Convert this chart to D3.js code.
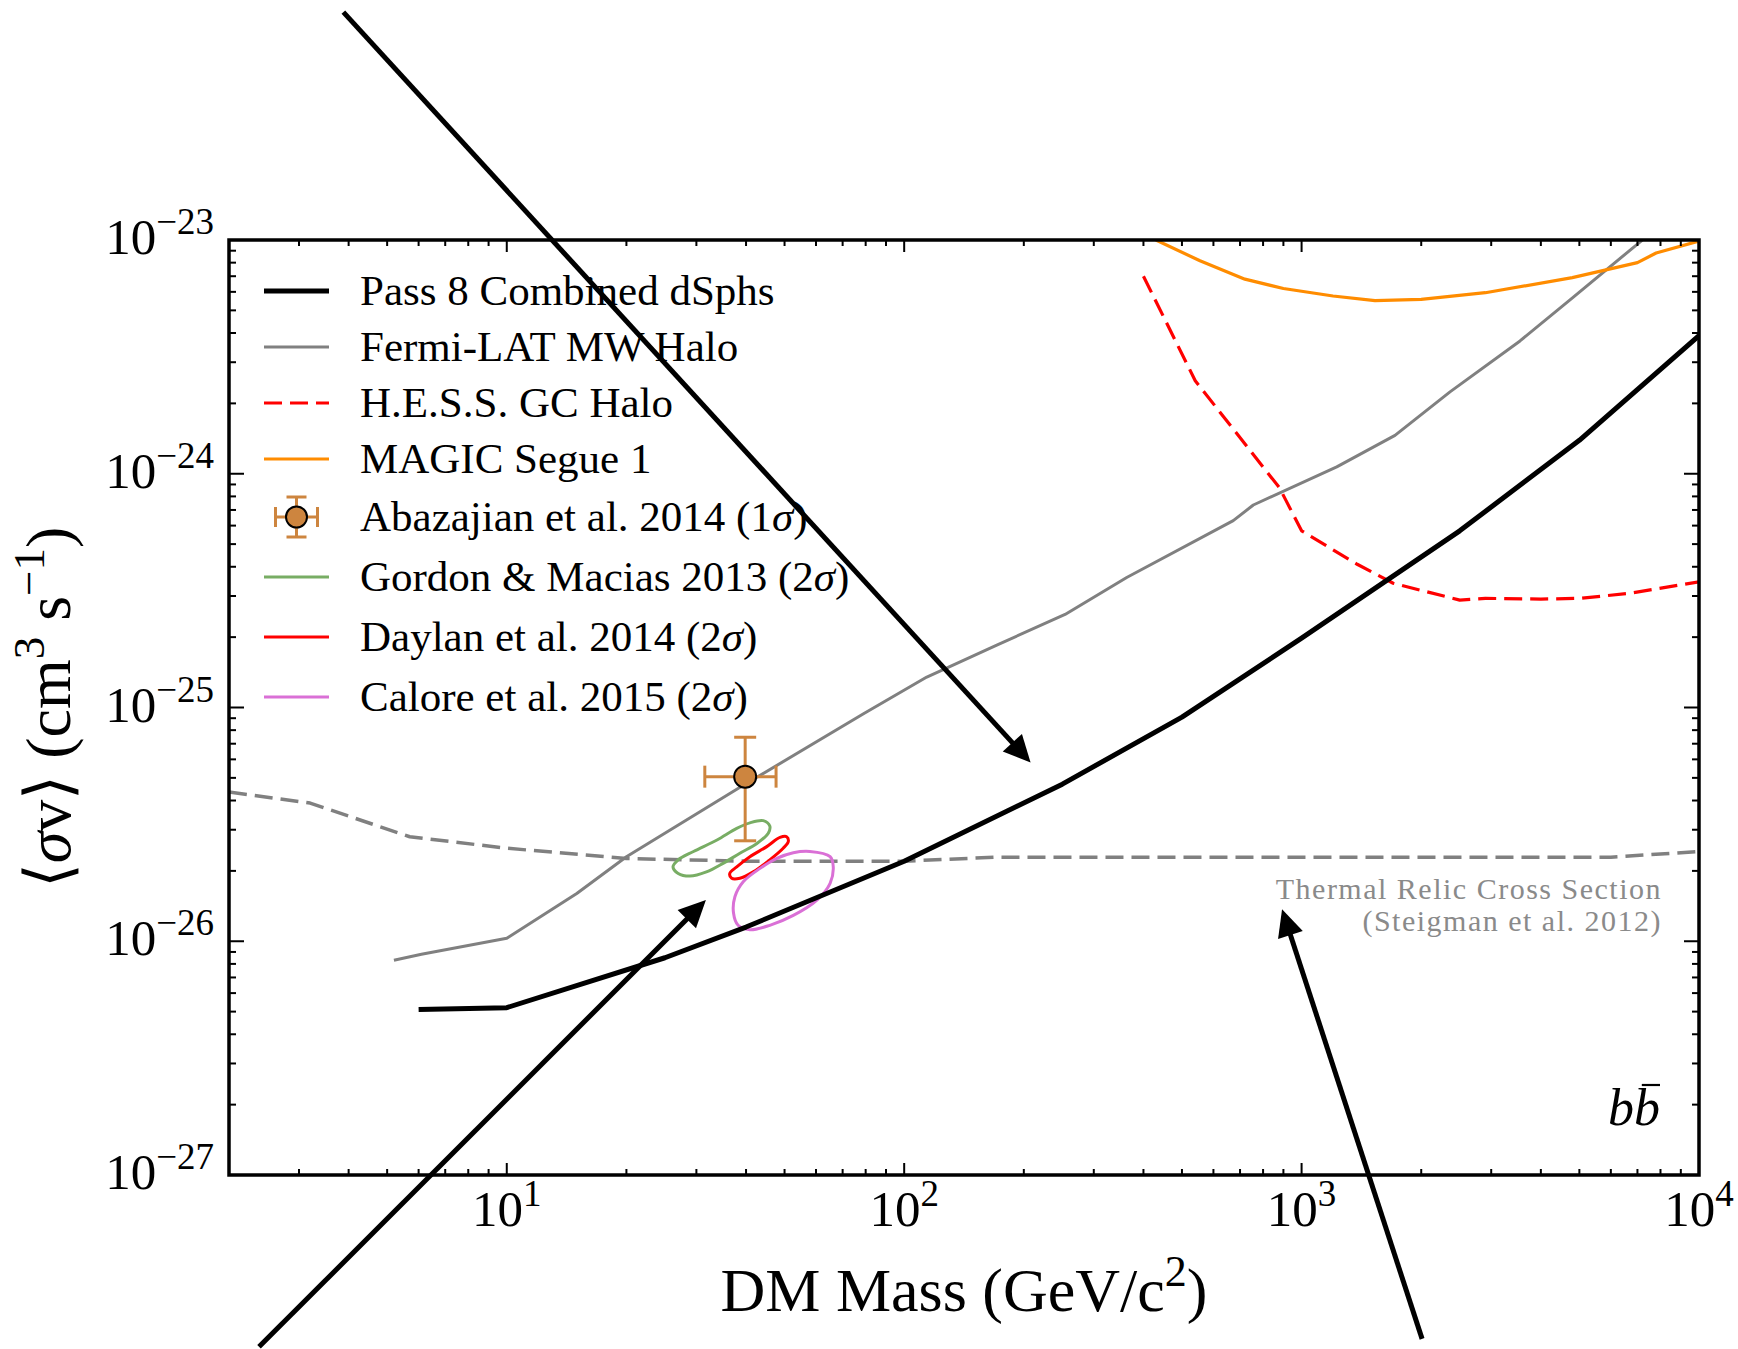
<!DOCTYPE html>
<html><head><meta charset="utf-8">
<script src="https://cdn.jsdelivr.net/npm/d3@7"></script>
<style>body{margin:0;background:#fff} svg{display:block}</style>
</head><body><svg id="c" width="1738" height="1349"></svg>
<script>
// ---------------- DATA ----------------
const pass8Mass = [6,10,25,40,100,250,500,1000,2500,5000,10000];
const pass8Sv   = [5.1e-27,5.2e-27,8.5e-27,1.15e-26,2.2e-26,4.7e-26,9.1e-26,1.98e-25,5.7e-25,1.39e-24,3.9e-24];

const fermiMass = [5.2,6.1,10,15,20,39,79,114,171,254,363,673,756,1226,1718,2363,3545,4829,7100,8000];
const fermiSv   = [8.3e-27,8.8e-27,1.03e-26,1.6e-26,2.3e-26,4.6e-26,9.4e-26,1.35e-25,1.85e-25,2.5e-25,3.6e-25,6.3e-25,7.35e-25,1.07e-24,1.46e-24,2.24e-24,3.7e-24,5.7e-24,9.8e-24,1.16e-23];

const hessMass = [400,540,880,1000,1380,1700,2500,2900,4000,5000,6700,10000];
const hessSv   = [7.0e-24,2.5e-24,8.7e-25,5.7e-25,4.1e-25,3.4e-25,2.88e-25,2.93e-25,2.91e-25,2.93e-25,3.08e-25,3.45e-25];

const magicMass = [430,555,720,900,1200,1530,2000,2900,4800,7000,7800,10000];
const magicSv   = [1.0e-23,8.15e-24,6.8e-24,6.2e-24,5.76e-24,5.5e-24,5.57e-24,5.95e-24,6.9e-24,8.0e-24,8.8e-24,9.9e-24];

const relicMass = [2,3.2,5.7,10,20,40,100,170,1000,6000,10000];
const relicSv   = [4.35e-26,3.9e-26,2.8e-26,2.5e-26,2.26e-26,2.2e-26,2.2e-26,2.29e-26,2.29e-26,2.29e-26,2.42e-26];

const abazMass = 39.8, abazMassLo = 31.5, abazMassHi = 47.6;
const abazSv = 5.06e-26, abazSvLo = 2.69e-26, abazSvHi = 7.46e-26;

const gordonMass = [44.2,45.9,45.5,42.6,38.6,35.1,31.8,28.9,27.0,26.2,27.0,29.5,33.8,37.9,40.9];
const gordonSv   = [3.28e-26,3.11e-26,2.90e-26,2.62e-26,2.38e-26,2.16e-26,1.98e-26,1.90e-26,1.95e-26,2.08e-26,2.23e-26,2.42e-26,2.71e-26,3.04e-26,3.21e-26];

const daylanMass = [50.6,51.1,49.6,45.9,41.7,38.6,36.8,36.4,37.9,40.9,45.1,48.7];
const daylanSv   = [2.80e-26,2.67e-26,2.50e-26,2.23e-26,1.98e-26,1.86e-26,1.86e-26,1.95e-26,2.08e-26,2.30e-26,2.54e-26,2.78e-26];

const caloreMass = [57.9,65.1,66.3,65.1,60.3,52.6,45.9,40.9,38.2,37.2,37.5,39.4,43.4,47.8,52.6];
const caloreSv   = [2.42e-26,2.30e-26,2.08e-26,1.77e-26,1.50e-26,1.29e-26,1.17e-26,1.12e-26,1.17e-26,1.32e-26,1.55e-26,1.80e-26,2.05e-26,2.26e-26,2.39e-26];

const arrowFromMass = [3.88, 2.38, 2010];
const arrowFromSv   = [9.44e-23, 1.84e-28, 1.99e-28];
const arrowToMass   = [208, 31.7, 893];
const arrowToSv     = [5.81e-26, 1.50e-26, 1.37e-26];

const xTickExp = [1,2,3,4];
const yTickExp = [-23,-24,-25,-26,-27];

const legendLabels = ["Pass 8 Combined dSphs","Fermi-LAT MW Halo","H.E.S.S. GC Halo","MAGIC Segue 1",
  "Abazajian et al. 2014 (1σ)","Gordon & Macias 2013 (2σ)","Daylan et al. 2014 (2σ)","Calore et al. 2015 (2σ)"];

const relicText = ["Thermal Relic Cross Section","(Steigman et al. 2012)"];
const channelText = "b";

// ---------------- FONT PICK ----------------
function hasFont(name){
  const c=document.createElement("canvas").getContext("2d");
  const s="Pass 8 Combined dSphs 0123456789";
  c.font="40px monospace"; const a=c.measureText(s).width;
  c.font=`40px "${name}", monospace`; const b=c.measureText(s).width;
  c.font="40px sans-serif"; const a2=c.measureText(s).width;
  c.font=`40px "${name}", sans-serif`; const b2=c.measureText(s).width;
  return Math.abs(a-b)>0.5 || Math.abs(a2-b2)>0.5;
}
const cands=["Liberation Serif","Times New Roman","Tinos","DejaVu Serif","Noto Serif"];
let picked = cands.find(hasFont) || "serif";
const FONT = picked==="serif" ? "serif" : `"${picked}", serif`;

// ---------------- LAYOUT ----------------
const L=229,R=1699,T=240,B=1175;
const svg = d3.select("#c");
const x = d3.scaleLog().domain([2,1e4]).range([L,R]);
const y = d3.scaleLog().domain([1e-27,1e-23]).range([B,T]);

svg.append("defs").append("clipPath").attr("id","clip")
  .append("rect").attr("x",L).attr("y",T).attr("width",R-L).attr("height",B-T);
const plot = svg.append("g").attr("clip-path","url(#clip)");

const line = d3.line().x(d=>x(d[0])).y(d=>y(d[1]));
const closed = d3.line().x(d=>x(d[0])).y(d=>y(d[1])).curve(d3.curveCatmullRomClosed.alpha(0.5));
const zip = (a,b)=>a.map((v,i)=>[v,b[i]]);

function drawLine(m,s,color,w,dash){
  plot.append("path").datum(zip(m,s)).attr("d",line)
    .attr("fill","none").attr("stroke",color).attr("stroke-width",w)
    .attr("stroke-linejoin","round").attr("stroke-dasharray",dash||null);
}
drawLine(relicMass,relicSv,"#808080",3.5,"18,8");
drawLine(fermiMass,fermiSv,"#808080",3);
drawLine(hessMass,hessSv,"#ff0000",3.2,"18,8");
drawLine(magicMass,magicSv,"#ff8c00",3.2);

function drawContour(m,s,color){
  plot.append("path").datum(zip(m,s)).attr("d",closed)
    .attr("fill","none").attr("stroke",color).attr("stroke-width",3);
}
drawContour(gordonMass,gordonSv,"#78ad64");
drawContour(daylanMass,daylanSv,"#ff0000");
drawContour(caloreMass,caloreSv,"#da70d6");

drawLine(pass8Mass,pass8Sv,"#000",5);

// error bar point
const eb = plot.append("g").attr("stroke","#cd853f").attr("stroke-width",3);
const cx=x(abazMass), cy=y(abazSv), cap=11;
eb.append("line").attr("x1",x(abazMassLo)).attr("x2",x(abazMassHi)).attr("y1",cy).attr("y2",cy);
eb.append("line").attr("x1",cx).attr("x2",cx).attr("y1",y(abazSvLo)).attr("y2",y(abazSvHi));
eb.append("line").attr("x1",x(abazMassLo)).attr("x2",x(abazMassLo)).attr("y1",cy-cap).attr("y2",cy+cap);
eb.append("line").attr("x1",x(abazMassHi)).attr("x2",x(abazMassHi)).attr("y1",cy-cap).attr("y2",cy+cap);
eb.append("line").attr("x1",cx-cap).attr("x2",cx+cap).attr("y1",y(abazSvLo)).attr("y2",y(abazSvLo));
eb.append("line").attr("x1",cx-cap).attr("x2",cx+cap).attr("y1",y(abazSvHi)).attr("y2",y(abazSvHi));
plot.append("circle").attr("cx",cx).attr("cy",cy).attr("r",11)
  .attr("fill","#cd853f").attr("stroke","#000").attr("stroke-width",2);

// ---------------- AXES ----------------
const ax = svg.append("g").attr("stroke","#000").attr("stroke-width",2);
const xMinor=[], yMinor=[];
for(let e=0;e<4;e++) for(let k=2;k<10;k++){const v=k*Math.pow(10,e); if(v>2&&v<1e4) xMinor.push(v);}
for(let e=-27;e<-23;e++) for(let k=2;k<10;k++){yMinor.push(k*Math.pow(10,e));}
const xMajorV = xTickExp.map(e=>Math.pow(10,e)).filter(v=>v<1e4);
const yMajorV = yTickExp.map(e=>Math.pow(10,e)).filter(v=>v>1e-27&&v<1e-23);
xMinor.forEach(v=>{const px=x(v);
  ax.append("line").attr("x1",px).attr("x2",px).attr("y1",B).attr("y2",B-6);
  ax.append("line").attr("x1",px).attr("x2",px).attr("y1",T).attr("y2",T+6);});
xMajorV.forEach(v=>{const px=x(v);
  ax.append("line").attr("x1",px).attr("x2",px).attr("y1",B).attr("y2",B-12);
  ax.append("line").attr("x1",px).attr("x2",px).attr("y1",T).attr("y2",T+12);});
yMinor.forEach(v=>{const py=y(v);
  ax.append("line").attr("y1",py).attr("y2",py).attr("x1",L).attr("x2",L+7);
  ax.append("line").attr("y1",py).attr("y2",py).attr("x1",R).attr("x2",R-7);});
yMajorV.forEach(v=>{const py=y(v);
  ax.append("line").attr("y1",py).attr("y2",py).attr("x1",L).attr("x2",L+15);
  ax.append("line").attr("y1",py).attr("y2",py).attr("x1",R).attr("x2",R-15);});
svg.append("rect").attr("x",L).attr("y",T).attr("width",R-L).attr("height",B-T)
  .attr("fill","none").attr("stroke","#000").attr("stroke-width",3.5);

// tick labels
function pow10(g,px,py,exp,anchor){
  const t=g.append("text").attr("x",px).attr("y",py).attr("text-anchor",anchor)
    .attr("font-family",FONT).attr("font-size",51).attr("fill","#000");
  t.append("tspan").text("10");
  t.append("tspan").attr("dy",-20).attr("font-size",37).text(String(exp).replace("-","−"));
}
const lab = svg.append("g");
xTickExp.forEach(e=>pow10(lab,x(Math.pow(10,e)),B+51,e,"middle"));
yTickExp.forEach(e=>pow10(lab,L-15,y(Math.pow(10,e))+14,e,"end"));

// axis titles
const xt = svg.append("text").attr("x",(L+R)/2).attr("y",1311).attr("text-anchor","middle")
  .attr("font-family",FONT).attr("font-size",62);
xt.append("tspan").text("DM Mass (GeV/c");
xt.append("tspan").attr("dy",-25).attr("font-size",44).text("2");
xt.append("tspan").attr("dy",25).text(")");

const yt = svg.append("text").attr("transform",`translate(70,${(T+B)/2}) rotate(-90)`)
  .attr("text-anchor","middle").attr("font-family",FONT).attr("font-size",64);
yt.append("tspan").text("⟨");
yt.append("tspan").attr("font-style","italic").text("σ");
yt.append("tspan").text("v⟩ (cm");
yt.append("tspan").attr("dy",-26).attr("font-size",45).text("3");
yt.append("tspan").attr("dy",26).text(" s");
yt.append("tspan").attr("dy",-26).attr("font-size",45).text("−1");
yt.append("tspan").attr("dy",26).text(")");

// annotations
relicText.forEach((s,i)=>{
  svg.append("text").attr("x",1662).attr("y",899+i*32).attr("text-anchor","end")
    .attr("font-family",FONT).attr("font-size",30).attr("letter-spacing",1.5)
    .attr("fill","#8a8a8a").text(s);
});
const bb = svg.append("text").attr("x",1660).attr("y",1125).attr("text-anchor","end")
  .attr("font-family",FONT).attr("font-size",52).attr("font-style","italic").text(channelText+channelText);
{
  const n=bb.node(); const s=n.getStartPositionOfChar(1); const w=n.getSubStringLength(1,1);
  svg.append("line").attr("x1",s.x+w*0.3).attr("x2",s.x+w*1.0).attr("y1",1085).attr("y2",1085)
    .attr("stroke","#000").attr("stroke-width",2.2);
}

// ---------------- LEGEND ----------------
const legRowY = [291,347,403,459,517,577,637,697];
const leg = svg.append("g");
const lx1=264, lx2=329, tx=360;
const legStyles = [
  {c:"#000",w:5},{c:"#808080",w:3},{c:"#ff0000",w:3.2,d:"18,8"},{c:"#ff8c00",w:3.2},
  {eb:true},{c:"#78ad64",w:3},{c:"#ff0000",w:3},{c:"#da70d6",w:3}];
legendLabels.forEach((lbl,i)=>{
  const yy=legRowY[i], st=legStyles[i];
  if(st.eb){
    const mx=(lx1+lx2)/2;
    const g=leg.append("g").attr("stroke","#cd853f").attr("stroke-width",3);
    g.append("line").attr("x1",mx-21).attr("x2",mx+21).attr("y1",yy).attr("y2",yy);
    g.append("line").attr("x1",mx).attr("x2",mx).attr("y1",yy-20).attr("y2",yy+20);
    g.append("line").attr("x1",mx-21).attr("x2",mx-21).attr("y1",yy-10).attr("y2",yy+10);
    g.append("line").attr("x1",mx+21).attr("x2",mx+21).attr("y1",yy-10).attr("y2",yy+10);
    g.append("line").attr("x1",mx-10).attr("x2",mx+10).attr("y1",yy-20).attr("y2",yy-20);
    g.append("line").attr("x1",mx-10).attr("x2",mx+10).attr("y1",yy+20).attr("y2",yy+20);
    leg.append("circle").attr("cx",mx).attr("cy",yy).attr("r",10.5).attr("fill","#cd853f").attr("stroke","#000").attr("stroke-width",2);
  } else {
    leg.append("line").attr("x1",lx1).attr("x2",lx2).attr("y1",yy).attr("y2",yy)
      .attr("stroke",st.c).attr("stroke-width",st.w).attr("stroke-dasharray",st.d||null);
  }
  const t=leg.append("text").attr("x",tx).attr("y",yy+14).attr("font-family",FONT).attr("font-size",43);
  lbl.split(/(σ)/).forEach(p=>{ if(!p) return;
    const ts=t.append("tspan").text(p); if(p==="σ") ts.attr("font-style","italic"); });
});

// ---------------- ARROWS ----------------
arrowFromMass.forEach((m,i)=>{
  const x0=x(m), y0=y(arrowFromSv[i]), x1=x(arrowToMass[i]), y1=y(arrowToSv[i]);
  const dx=x1-x0, dy=y1-y0, len=Math.hypot(dx,dy), ux=dx/len, uy=dy/len;
  const hl=27, hw=13;
  const bx=x1-ux*hl, by=y1-uy*hl;
  svg.append("line").attr("x1",x0).attr("y1",y0).attr("x2",bx+ux*2).attr("y2",by+uy*2)
    .attr("stroke","#000").attr("stroke-width",5);
  svg.append("path").attr("d",`M${x1},${y1}L${bx-uy*hw},${by+ux*hw}L${bx+uy*hw},${by-ux*hw}Z`).attr("fill","#000");
});
</script></body></html>
